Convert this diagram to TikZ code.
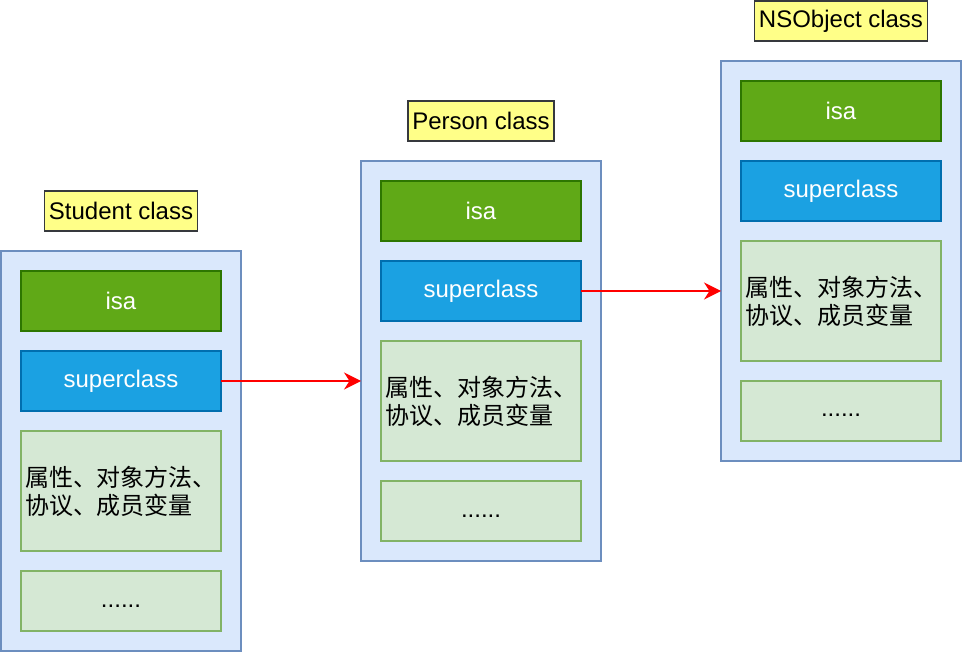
\documentclass[tikz,border=0pt]{standalone}
\usepackage{fontspec}
\usepackage{tikz}
\setmainfont{Liberation Sans}
\newfontfamily\cjk{Noto Sans CJK SC}
\usetikzlibrary{positioning,arrows.meta}

\definecolor{fondclasse}{HTML}{DAE8FC}
\definecolor{bordclasse}{HTML}{6C8EBF}
\definecolor{fondisa}{HTML}{60A917}
\definecolor{bordisa}{HTML}{2D7600}
\definecolor{fondsup}{HTML}{1BA1E2}
\definecolor{bordsup}{HTML}{006EAF}
\definecolor{fondprop}{HTML}{D5E8D4}
\definecolor{bordprop}{HTML}{82B366}
\definecolor{fondtitre}{HTML}{FFFF88}
\definecolor{bordtitre}{HTML}{36393D}

\begin{document}
\begin{tikzpicture}[x=1pt,y=-1pt,
    font=\fontsize{24}{28}\selectfont,
    classe/.style={rectangle,draw=bordclasse,fill=fondclasse,line width=1.5pt,
      minimum width=240pt,minimum height=400pt,inner sep=0pt,outer sep=0pt},
    case/.style={rectangle,line width=1.5pt,minimum width=200pt,
      minimum height=60pt,inner sep=0pt,outer sep=0pt},
    isa/.style={case,draw=bordisa,fill=fondisa,text=white},
    sup/.style={case,draw=bordsup,fill=fondsup,text=white},
    prop/.style={case,draw=bordprop,fill=fondprop},
    titre/.style={rectangle,draw=bordtitre,fill=fondtitre,line width=1.5pt,
      minimum height=40pt,inner xsep=4.5pt,inner ysep=0pt,outer sep=0pt},
    fleche/.style={-{Stealth[length=17pt,width=17pt]},draw=red,line width=1.5pt}]

      % Cadre de la page
      \useasboundingbox (0,0) rectangle (962,652);

      % Les trois classes : cadre, titre et cases
      \foreach \nom/\cx/\cy/\titre in {stu/121/451/Student class,
          per/481/361/Person class, nso/841/261/NSObject class}{
        \node[classe] (\nom) at (\cx,\cy) {};
        \node[titre,above=20pt of \nom.north] (\nom-titre) {\titre};
        \node[isa,below=20pt of \nom.north] (\nom-isa) {isa};
        \node[sup,below=20pt of \nom-isa] (\nom-sup) {superclass};
        \node[prop,minimum height=120pt,text width=192pt,align=left,
          inner xsep=4pt,below=20pt of \nom-sup] (\nom-prop)
          {\cjk 属性、对象方法、\\协议、成员变量};
        \node[prop,text height=17pt,text depth=5pt,
          below=20pt of \nom-prop] (\nom-etc) {......};
      }

      % Flèches superclass
      \draw[fleche] (stu-sup.east) -- (stu-sup.east -| per.west);
      \draw[fleche] (per-sup.east) -- (per-sup.east -| nso.west);
\end{tikzpicture}
\end{document}
